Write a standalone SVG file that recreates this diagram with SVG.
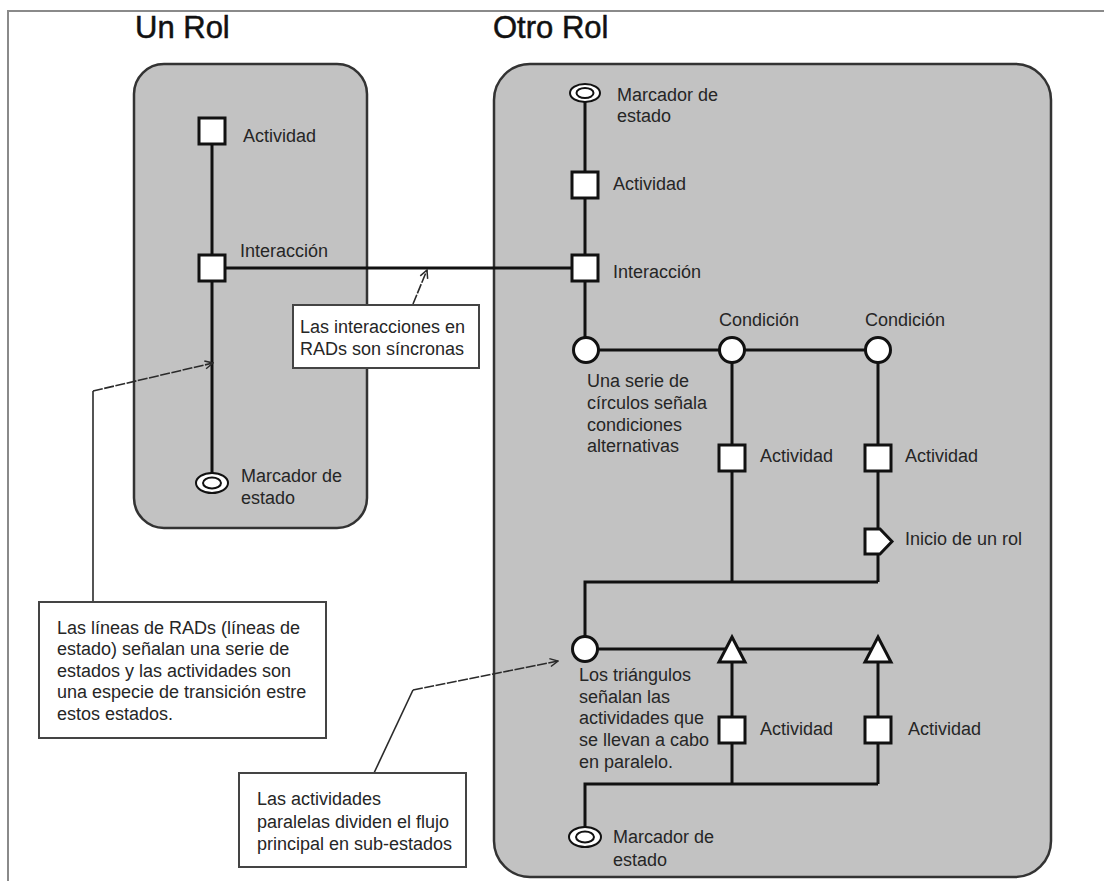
<svg xmlns="http://www.w3.org/2000/svg" width="1104" height="881" viewBox="0 0 1104 881">
  <style>
    .frame { stroke:#8a8a8a; stroke-width:2; fill:none }
    .role { fill:#c2c2c2; stroke:#333; stroke-width:2.5 }
    .lane { stroke:#111; stroke-width:3; fill:none }
    .node { fill:#fff; stroke:#111; stroke-width:3 }
    .ring { fill:#fff; stroke:#111; stroke-width:2 }
    .note { fill:#fff; stroke:#444; stroke-width:2 }
    .lead { stroke:#2a2a2a; stroke-width:1.6; fill:none }
    .dash { stroke-dasharray:10 1.5 }
    text { font-family:"Liberation Sans", Arial, sans-serif; fill:#262626 }
    .lbl { font-size:18px }
    .title { font-size:31px; fill:#111; stroke:#111; stroke-width:0.5 }
  </style>
  <defs>
    <marker id="open" viewBox="0 0 10 10" refX="9" refY="5" markerWidth="10" markerHeight="10" markerUnits="userSpaceOnUse" orient="auto">
      <path d="M1,1 L9,5 L1,9" fill="none" stroke="#2a2a2a" stroke-width="1.5"/>
    </marker>
  </defs>

  <rect width="1104" height="881" fill="#fff"/>
  <!-- page frame (top and left edges) -->
  <path class="frame" d="M8,881 V11 H1104"/>

  <!-- swimlane titles -->
  <text class="title" x="135" y="38">Un Rol</text>
  <text class="title" x="493" y="38">Otro Rol</text>

  <!-- role containers -->
  <g id="role-un-rol">
    <rect class="role" x="134" y="64" width="233" height="464" rx="30" ry="30"/>
  </g>
  <g id="role-otro-rol">
    <rect class="role" x="494" y="64" width="557" height="813" rx="36" ry="36"/>
  </g>

  <!-- state lines and interaction -->
  <g id="connectors">
    <!-- Un Rol state line -->
    <line class="lane" x1="212" y1="131" x2="212" y2="474"/>
    <!-- synchronous interaction -->
    <line class="lane" x1="212" y1="268" x2="585" y2="268"/>
    <!-- Otro Rol main state line -->
    <line class="lane" x1="585" y1="96" x2="585" y2="350"/>
    <!-- alternative conditions -->
    <line class="lane" x1="585" y1="350" x2="878" y2="350"/>
    <line class="lane" x1="732" y1="350" x2="732" y2="582"/>
    <line class="lane" x1="878" y1="350" x2="878" y2="582"/>
    <path class="lane" d="M878,582 H585 V649"/>
    <!-- parallel split -->
    <line class="lane" x1="585" y1="649" x2="878" y2="649"/>
    <line class="lane" x1="732" y1="649" x2="732" y2="784"/>
    <line class="lane" x1="878" y1="649" x2="878" y2="784"/>
    <path class="lane" d="M878,784 H585 V830"/>
  </g>

  <!-- Un Rol nodes -->
  <g id="un-actividad">
    <rect class="node" x="199" y="118" width="26" height="26"/>
    <text class="lbl" x="243" y="142">Actividad</text>
  </g>
  <g id="un-interaccion">
    <rect class="node" x="199" y="255" width="26" height="26"/>
    <text class="lbl" x="240" y="257">Interacción</text>
  </g>
  <g id="un-marcador">
    <ellipse class="ring" cx="212" cy="483" rx="16" ry="10"/>
    <ellipse class="ring" cx="212" cy="483" rx="9" ry="5.5"/>
    <text class="lbl" x="241" y="482">Marcador de</text>
    <text class="lbl" x="241" y="504">estado</text>
  </g>

  <!-- Otro Rol nodes -->
  <g id="otro-marcador-inicio">
    <ellipse class="ring" cx="585" cy="93" rx="15" ry="9"/>
    <ellipse class="ring" cx="585" cy="93" rx="8.5" ry="5"/>
    <text class="lbl" x="617" y="101">Marcador de</text>
    <text class="lbl" x="617" y="122">estado</text>
  </g>
  <g id="otro-actividad">
    <rect class="node" x="572" y="172" width="26" height="26"/>
    <text class="lbl" x="613" y="190">Actividad</text>
  </g>
  <g id="otro-interaccion">
    <rect class="node" x="572" y="255" width="26" height="26"/>
    <text class="lbl" x="613" y="278">Interacción</text>
  </g>
  <g id="condicion-base">
    <circle class="node" cx="586" cy="350" r="12.5"/>
    <text class="lbl" x="587" y="387">Una serie de</text>
    <text class="lbl" x="587" y="409">círculos señala</text>
    <text class="lbl" x="587" y="431">condiciones</text>
    <text class="lbl" x="587" y="452">alternativas</text>
  </g>
  <g id="condicion-1">
    <circle class="node" cx="732" cy="350" r="12.5"/>
    <text class="lbl" x="719" y="326">Condición</text>
  </g>
  <g id="condicion-2">
    <circle class="node" cx="878" cy="350" r="12.5"/>
    <text class="lbl" x="865" y="326">Condición</text>
  </g>
  <g id="cond-actividad-1">
    <rect class="node" x="719" y="445" width="26" height="26"/>
    <text class="lbl" x="760" y="462">Actividad</text>
  </g>
  <g id="cond-actividad-2">
    <rect class="node" x="865" y="445" width="26" height="26"/>
    <text class="lbl" x="905" y="462">Actividad</text>
  </g>
  <g id="inicio-rol">
    <path class="node" d="M865,529 H880 L892,541.5 L880,554 H865 Z" stroke-width="2.5"/>
    <text class="lbl" x="905" y="545">Inicio de un rol</text>
  </g>
  <g id="paralelo-base">
    <circle class="node" cx="585" cy="649" r="12.5"/>
    <text class="lbl" x="579" y="681">Los triángulos</text>
    <text class="lbl" x="579" y="703">señalan las</text>
    <text class="lbl" x="579" y="724">actividades que</text>
    <text class="lbl" x="579" y="746">se llevan a cabo</text>
    <text class="lbl" x="579" y="768">en paralelo.</text>
  </g>
  <g id="paralelo-1">
    <path class="node" d="M732,637 L745,662 H719 Z" stroke-width="2.5"/>
  </g>
  <g id="paralelo-2">
    <path class="node" d="M878,637 L891,662 H865 Z" stroke-width="2.5"/>
  </g>
  <g id="par-actividad-1">
    <rect class="node" x="719" y="717" width="26" height="26"/>
    <text class="lbl" x="760" y="735">Actividad</text>
  </g>
  <g id="par-actividad-2">
    <rect class="node" x="865" y="717" width="26" height="26"/>
    <text class="lbl" x="908" y="735">Actividad</text>
  </g>
  <g id="otro-marcador-fin">
    <ellipse class="ring" cx="585" cy="837" rx="16" ry="10"/>
    <ellipse class="ring" cx="585" cy="837" rx="9" ry="5.5"/>
    <text class="lbl" x="613" y="843">Marcador de</text>
    <text class="lbl" x="613" y="866">estado</text>
  </g>

  <!-- annotation notes -->
  <g id="nota-interacciones">
    <path class="lead dash" d="M413,304 L427,270" marker-end="url(#open)"/>
    <rect class="note" x="293" y="305" width="186" height="63"/>
    <text class="lbl" x="300" y="333">Las interacciones en</text>
    <text class="lbl" x="300" y="355">RADs son síncronas</text>
  </g>
  <g id="nota-lineas">
    <path class="lead" d="M93,602 V391"/>
    <path class="lead dash" d="M93,391 L213,363" marker-end="url(#open)"/>
    <rect class="note" x="39" y="602" width="287" height="136"/>
    <text class="lbl" x="57" y="634">Las líneas de RADs (líneas de</text>
    <text class="lbl" x="57" y="655">estado) señalan una serie de</text>
    <text class="lbl" x="57" y="677">estados y las actividades son</text>
    <text class="lbl" x="57" y="698">una especie de transición estre</text>
    <text class="lbl" x="57" y="720">estos estados.</text>
  </g>
  <g id="nota-paralelas">
    <path class="lead" d="M374,773 L413,690"/>
    <path class="lead dash" d="M413,690 L558,661" marker-end="url(#open)"/>
    <rect class="note" x="239" y="773" width="227" height="94"/>
    <text class="lbl" x="257" y="805">Las actividades</text>
    <text class="lbl" x="257" y="828">paralelas dividen el flujo</text>
    <text class="lbl" x="257" y="850">principal en sub-estados</text>
  </g>
</svg>
